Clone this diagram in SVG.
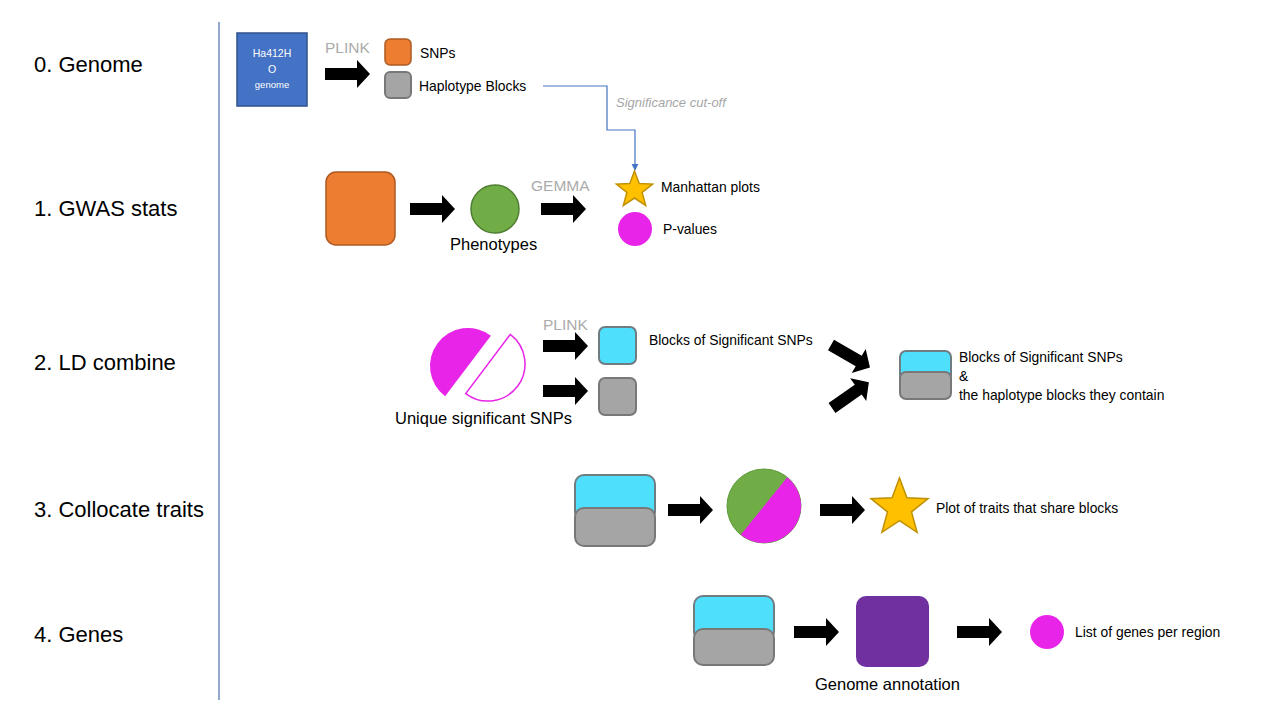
<svg xmlns="http://www.w3.org/2000/svg" xmlns:xlink="http://www.w3.org/1999/xlink" width="1280" height="720" viewBox="0 0 1280 720">
<style>
  text { font-family: "Liberation Sans", Arial, sans-serif; fill: #000; }
  .row { font-size: 22px; }
  .lbl { font-size: 13.9px; }
  .big { font-size: 16.5px; }
  .tool { font-size: 15.5px; fill: #ABABAB; }
  .note { font-size: 13px; fill: #A6A6A6; font-style: italic; }
  .orange { fill: #ED7D31; stroke: #AE5A21; stroke-width: 1.5; }
  .grey { fill: #A5A5A5; stroke: #787878; stroke-width: 2; }
  .cyan { fill: #4DDFFB; stroke: #6F7C82; stroke-width: 2; }
  .mag { fill: #E824E8; }
</style>
<defs>
  <path id="arr" d="M0,-6 H32 V-14 L45,0 L32,14 V6 H0 Z" fill="#000"/>
  <marker id="tri" viewBox="0 0 10 10" refX="9" refY="5" markerWidth="6" markerHeight="6" orient="auto">
    <path d="M0,0 L10,5 L0,10 Z" fill="#4472C4"/>
  </marker>
</defs>

<rect width="1280" height="720" fill="#fff"/>
<line x1="219" y1="22" x2="219" y2="700" stroke="#4A6FA8" stroke-width="1.2"/>

<g id="row-labels">
  <text class="row" x="34" y="72">0. Genome</text>
  <text class="row" x="34" y="216">1. GWAS stats</text>
  <text class="row" x="34" y="370">2. LD combine</text>
  <text class="row" x="34" y="517">3. Collocate traits</text>
  <text class="row" x="34" y="642">4. Genes</text>
</g>

<g id="connectors">
  <use href="#arr" x="325" y="74"/>
  <text class="tool" x="325" y="53">PLINK</text>
  <use href="#arr" x="410" y="209"/>
  <use href="#arr" x="541" y="209"/>
  <text class="tool" x="531" y="191">GEMMA</text>
  <polyline points="543,86 607,86 607,130 635,130 635,170" fill="none" stroke="#4472C4" stroke-width="1.2" marker-end="url(#tri)"/>
  <text class="note" x="616" y="107">Significance cut-off</text>
  <use href="#arr" x="543" y="346"/>
  <text class="tool" x="543" y="330">PLINK</text>
  <use href="#arr" x="543" y="391"/>
  <use href="#arr" transform="translate(831,345) rotate(30)"/>
  <use href="#arr" transform="translate(832,408) rotate(-35)"/>
  <use href="#arr" x="668" y="510"/>
  <use href="#arr" x="820" y="510"/>
  <use href="#arr" x="794" y="632"/>
  <use href="#arr" x="957" y="632"/>
</g>

<g id="genome">
  <rect x="237" y="33" width="70" height="73" fill="#4472C4" stroke="#2F528F" stroke-width="1.5"/>
  <text x="272" y="57" font-size="10.5" text-anchor="middle" style="fill:#fff">Ha412H</text>
  <text x="272" y="73" font-size="10.5" text-anchor="middle" style="fill:#fff">O</text>
  <text x="272" y="88" font-size="9.5" text-anchor="middle" style="fill:#fff">genome</text>
</g>

<g id="snps">
  <rect class="orange" x="385" y="39" width="26" height="26" rx="5"/>
  <text class="lbl" x="420" y="58">SNPs</text>
</g>

<g id="haplotype-blocks">
  <rect class="grey" x="385" y="72" width="26" height="26" rx="5"/>
  <text class="lbl" x="419" y="91">Haplotype Blocks</text>
</g>

<g id="snp-matrix">
  <rect class="orange" x="326" y="172" width="69" height="73" rx="10"/>
</g>

<g id="phenotypes">
  <circle cx="495" cy="209" r="24" fill="#70AD47" stroke="#507E32" stroke-width="1.5"/>
  <text class="big" x="450" y="250">Phenotypes</text>
</g>

<g id="manhattan">
  <polygon points="634.5,171 639.2,183.5 652.6,184.1 642.1,192.5 645.7,205.4 634.5,198 623.3,205.4 626.9,192.5 616.4,184.1 629.8,183.5" fill="#FFC000" stroke="#BF9000" stroke-width="1.5"/>
  <text class="lbl" x="661" y="192">Manhattan plots</text>
</g>

<g id="pvalues">
  <circle class="mag" cx="635" cy="229" r="17"/>
  <text class="lbl" x="663" y="234">P-values</text>
</g>

<g id="unique-snps">
  <path d="M0,-38 A38,38 0 0,0 0,38 Z" transform="translate(468,366) rotate(37)" fill="#E824E8"/>
  <path d="M0,-37 A37,37 0 0,1 0,37 Z" transform="translate(488,364) rotate(37)" fill="#fff" stroke="#E824E8" stroke-width="1.5"/>
  <text class="big" x="395" y="424">Unique significant SNPs</text>
</g>

<g id="sig-blocks">
  <rect class="cyan" x="599" y="327" width="37" height="37" rx="6"/>
  <text class="lbl" x="649" y="345">Blocks of Significant SNPs</text>
</g>

<g id="hap-blocks">
  <rect class="grey" x="599" y="378" width="37" height="37" rx="6"/>
</g>

<g id="combined-blocks">
  <rect class="cyan" x="900" y="351" width="51" height="30" rx="6"/>
  <rect class="grey" x="900" y="372" width="51" height="27" rx="6"/>
  <text class="lbl" x="959" y="362">Blocks of Significant SNPs</text>
  <text class="lbl" x="959" y="381">&amp;</text>
  <text class="lbl" x="959" y="400">the haplotype blocks they contain</text>
</g>

<g id="blocks-3">
  <rect class="cyan" x="575" y="475" width="80" height="46" rx="9"/>
  <rect class="grey" x="575" y="508" width="80" height="38" rx="9"/>
</g>

<g id="shared-traits">
  <circle cx="764" cy="506" r="37" fill="#70AD47" stroke="#5E9A3A" stroke-width="1"/>
  <path d="M787.3,477.2 A37,37 0 0,1 740.7,534.8 Z" fill="#E824E8"/>
</g>

<g id="trait-plot">
  <polygon points="899.5,478 906.9,497.8 928.0,498.7 911.5,511.9 917.1,532.3 899.5,520.6 881.9,532.3 887.5,511.9 871.0,498.7 892.1,497.8" fill="#FFC000" stroke="#BF9000" stroke-width="1.5"/>
  <text class="lbl" x="936" y="513">Plot of traits that share blocks</text>
</g>

<g id="blocks-4">
  <rect class="cyan" x="694" y="596" width="80" height="45" rx="9"/>
  <rect class="grey" x="694" y="629" width="80" height="36" rx="9"/>
</g>

<g id="genome-annotation">
  <rect x="856" y="596" width="73" height="71" rx="10" fill="#7030A0"/>
  <text class="big" x="815" y="690">Genome annotation</text>
</g>

<g id="gene-list">
  <circle class="mag" cx="1047" cy="632" r="17"/>
  <text class="lbl" x="1075" y="637">List of genes per region</text>
</g>
</svg>
